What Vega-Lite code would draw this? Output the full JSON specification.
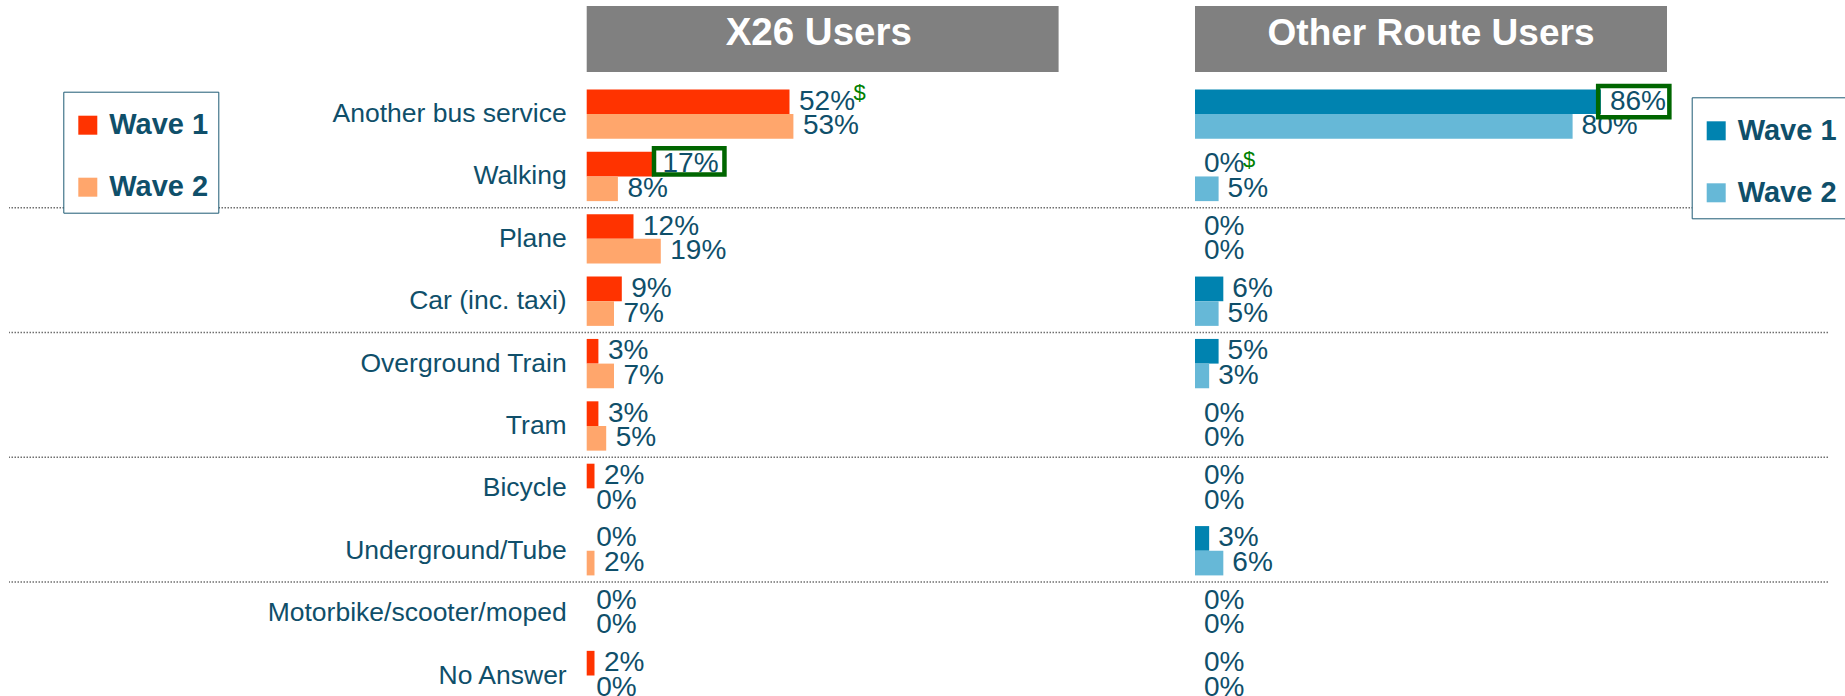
{
  "$schema": "https://vega.github.io/schema/vega-lite/v6.json",
  "width": 1819,
  "height": 696,
  "autosize": "none",
  "padding": {"left": 9, "right": 17, "top": 0, "bottom": 0},
  "background": "white",
  "config": {
    "view": {"stroke": null},
    "font": "Liberation Sans",
    "text": {"font": "Liberation Sans"}
  },
  "datasets": {
    "bars": [
      {"panel": "X26 Users", "cat": "Another bus service", "wave": "Wave 1", "value": 0.52, "box": false, "sig": "$"},
      {"panel": "X26 Users", "cat": "Another bus service", "wave": "Wave 2", "value": 0.53, "box": false, "sig": ""},
      {"panel": "X26 Users", "cat": "Walking", "wave": "Wave 1", "value": 0.17, "box": true, "sig": ""},
      {"panel": "X26 Users", "cat": "Walking", "wave": "Wave 2", "value": 0.08, "box": false, "sig": ""},
      {"panel": "X26 Users", "cat": "Plane", "wave": "Wave 1", "value": 0.12, "box": false, "sig": ""},
      {"panel": "X26 Users", "cat": "Plane", "wave": "Wave 2", "value": 0.19, "box": false, "sig": ""},
      {"panel": "X26 Users", "cat": "Car (inc. taxi)", "wave": "Wave 1", "value": 0.09, "box": false, "sig": ""},
      {"panel": "X26 Users", "cat": "Car (inc. taxi)", "wave": "Wave 2", "value": 0.07, "box": false, "sig": ""},
      {"panel": "X26 Users", "cat": "Overground Train", "wave": "Wave 1", "value": 0.03, "box": false, "sig": ""},
      {"panel": "X26 Users", "cat": "Overground Train", "wave": "Wave 2", "value": 0.07, "box": false, "sig": ""},
      {"panel": "X26 Users", "cat": "Tram", "wave": "Wave 1", "value": 0.03, "box": false, "sig": ""},
      {"panel": "X26 Users", "cat": "Tram", "wave": "Wave 2", "value": 0.05, "box": false, "sig": ""},
      {"panel": "X26 Users", "cat": "Bicycle", "wave": "Wave 1", "value": 0.02, "box": false, "sig": ""},
      {"panel": "X26 Users", "cat": "Bicycle", "wave": "Wave 2", "value": 0.0, "box": false, "sig": ""},
      {"panel": "X26 Users", "cat": "Underground/Tube", "wave": "Wave 1", "value": 0.0, "box": false, "sig": ""},
      {"panel": "X26 Users", "cat": "Underground/Tube", "wave": "Wave 2", "value": 0.02, "box": false, "sig": ""},
      {"panel": "X26 Users", "cat": "Motorbike/scooter/moped", "wave": "Wave 1", "value": 0.0, "box": false, "sig": ""},
      {"panel": "X26 Users", "cat": "Motorbike/scooter/moped", "wave": "Wave 2", "value": 0.0, "box": false, "sig": ""},
      {"panel": "X26 Users", "cat": "No Answer", "wave": "Wave 1", "value": 0.02, "box": false, "sig": ""},
      {"panel": "X26 Users", "cat": "No Answer", "wave": "Wave 2", "value": 0.0, "box": false, "sig": ""},
      {"panel": "Other Route Users", "cat": "Another bus service", "wave": "Wave 1", "value": 0.86, "box": true, "sig": ""},
      {"panel": "Other Route Users", "cat": "Another bus service", "wave": "Wave 2", "value": 0.80, "box": false, "sig": ""},
      {"panel": "Other Route Users", "cat": "Walking", "wave": "Wave 1", "value": 0.0, "box": false, "sig": "$"},
      {"panel": "Other Route Users", "cat": "Walking", "wave": "Wave 2", "value": 0.05, "box": false, "sig": ""},
      {"panel": "Other Route Users", "cat": "Plane", "wave": "Wave 1", "value": 0.0, "box": false, "sig": ""},
      {"panel": "Other Route Users", "cat": "Plane", "wave": "Wave 2", "value": 0.0, "box": false, "sig": ""},
      {"panel": "Other Route Users", "cat": "Car (inc. taxi)", "wave": "Wave 1", "value": 0.06, "box": false, "sig": ""},
      {"panel": "Other Route Users", "cat": "Car (inc. taxi)", "wave": "Wave 2", "value": 0.05, "box": false, "sig": ""},
      {"panel": "Other Route Users", "cat": "Overground Train", "wave": "Wave 1", "value": 0.05, "box": false, "sig": ""},
      {"panel": "Other Route Users", "cat": "Overground Train", "wave": "Wave 2", "value": 0.03, "box": false, "sig": ""},
      {"panel": "Other Route Users", "cat": "Tram", "wave": "Wave 1", "value": 0.0, "box": false, "sig": ""},
      {"panel": "Other Route Users", "cat": "Tram", "wave": "Wave 2", "value": 0.0, "box": false, "sig": ""},
      {"panel": "Other Route Users", "cat": "Bicycle", "wave": "Wave 1", "value": 0.0, "box": false, "sig": ""},
      {"panel": "Other Route Users", "cat": "Bicycle", "wave": "Wave 2", "value": 0.0, "box": false, "sig": ""},
      {"panel": "Other Route Users", "cat": "Underground/Tube", "wave": "Wave 1", "value": 0.03, "box": false, "sig": ""},
      {"panel": "Other Route Users", "cat": "Underground/Tube", "wave": "Wave 2", "value": 0.06, "box": false, "sig": ""},
      {"panel": "Other Route Users", "cat": "Motorbike/scooter/moped", "wave": "Wave 1", "value": 0.0, "box": false, "sig": ""},
      {"panel": "Other Route Users", "cat": "Motorbike/scooter/moped", "wave": "Wave 2", "value": 0.0, "box": false, "sig": ""},
      {"panel": "Other Route Users", "cat": "No Answer", "wave": "Wave 1", "value": 0.0, "box": false, "sig": ""},
      {"panel": "Other Route Users", "cat": "No Answer", "wave": "Wave 2", "value": 0.0, "box": false, "sig": ""}
    ],
    "seps": [
      {"cat": "Walking"},
      {"cat": "Car (inc. taxi)"},
      {"cat": "Tram"},
      {"cat": "Underground/Tube"}
    ],
    "headers": [
      {"cat": "hdr", "panel": "X26 Users"},
      {"cat": "hdr", "panel": "Other Route Users"}
    ]
  },
  "resolve": {
    "scale": {"x": "independent", "color": "independent"},
    "legend": {"color": "independent"}
  },
  "encoding": {
    "y": {
      "field": "cat",
      "type": "nominal",
      "scale": {
        "domain": ["hdr", "Another bus service", "Walking", "Plane", "Car (inc. taxi)", "Overground Train", "Tram", "Bicycle", "Underground/Tube", "Motorbike/scooter/moped", "No Answer"],
        "range": [20.5, 706.7],
        "paddingInner": 0,
        "paddingOuter": 0
      },
      "axis": null
    }
  },
  "layer": [
    {
      "data": {"name": "seps"},
      "mark": {"type": "rule", "color": "#6F6F6F", "strokeWidth": 1.5, "strokeDash": [1.5, 1.5]},
      "encoding": {
        "y": {
          "field": "cat",
          "type": "nominal",
          "bandPosition": 1,
          "scale": {
            "domain": ["hdr", "Another bus service", "Walking", "Plane", "Car (inc. taxi)", "Overground Train", "Tram", "Bicycle", "Underground/Tube", "Motorbike/scooter/moped", "No Answer"],
            "range": [20.5, 706.7],
            "paddingInner": 0,
            "paddingOuter": 0
          },
          "axis": null
        }
      }
    },
    {
      "data": {"name": "bars"},
      "transform": [{"filter": "datum.panel === 'X26 Users' && datum.wave === 'Wave 1'"}],
      "mark": {"type": "text", "align": "right", "baseline": "middle", "dx": -20, "fontSize": 26.5, "color": "#0F4F6A"},
      "encoding": {
        "x": {"datum": 0, "type": "quantitative", "scale": {"domain": [0, 1.21], "range": [577.7, 1049.6], "nice": false, "zero": false}, "axis": null},
        "text": {"field": "cat"}
      }
    },
    {
      "data": {"name": "headers"},
      "transform": [{"filter": "datum.panel === 'X26 Users'"}],
      "mark": {"type": "bar", "color": "#808080", "height": 66, "yOffset": -12.7},
      "encoding": {
        "x": {"datum": 0, "type": "quantitative", "scale": {"domain": [0, 1.21], "range": [577.7, 1049.6], "nice": false, "zero": false}, "axis": null},
        "x2": {"datum": 1.21}
      }
    },
    {
      "data": {"name": "headers"},
      "transform": [{"filter": "datum.panel === 'X26 Users'"}],
      "mark": {"type": "text", "color": "white", "fontSize": 38.5, "fontWeight": "bold", "align": "center", "baseline": "alphabetic", "yOffset": -7},
      "encoding": {
        "x": {"datum": 0.595, "type": "quantitative", "scale": {"domain": [0, 1.21], "range": [577.7, 1049.6], "nice": false, "zero": false}, "axis": null},
        "text": {"field": "panel"}
      }
    },
    {
      "data": {"name": "headers"},
      "transform": [{"filter": "datum.panel === 'Other Route Users'"}],
      "mark": {"type": "bar", "color": "#808080", "height": 66, "yOffset": -12.7},
      "encoding": {
        "x": {"datum": 0, "type": "quantitative", "scale": {"domain": [0, 1], "range": [1186, 1658], "nice": false, "zero": false}, "axis": null},
        "x2": {"datum": 1}
      }
    },
    {
      "data": {"name": "headers"},
      "transform": [{"filter": "datum.panel === 'Other Route Users'"}],
      "mark": {"type": "text", "color": "white", "fontSize": 37, "fontWeight": "bold", "align": "center", "baseline": "alphabetic", "yOffset": -7},
      "encoding": {
        "x": {"datum": 0.5, "type": "quantitative", "scale": {"domain": [0, 1], "range": [1186, 1658], "nice": false, "zero": false}, "axis": null},
        "text": {"field": "panel"}
      }
    },
    {
      "data": {"name": "bars"},
      "transform": [{"filter": "datum.panel === 'X26 Users'"}],
      "mark": {"type": "bar"},
      "encoding": {
        "x": {"field": "value", "type": "quantitative", "scale": {"domain": [0, 1.21], "range": [577.7, 1049.6], "nice": false, "zero": false}, "axis": null},
        "yOffset": {"field": "wave", "type": "nominal", "scale": {"domain": ["Wave 1", "Wave 2"], "paddingInner": 0, "paddingOuter": 0.2646}},
        "color": {
          "field": "wave",
          "type": "nominal",
          "scale": {"domain": ["Wave 1", "Wave 2"], "range": ["#FF3300", "#FFA66C"]},
          "legend": {
            "title": " ",
            "titleFontSize": 1,
            "titlePadding": 8,
            "orient": "none",
            "legendX": 54.3,
            "legendY": 91.7,
            "direction": "vertical",
            "symbolType": "square",
            "symbolSize": 361,
            "symbolStrokeWidth": 0,
            "labelFont": "Liberation Sans",
            "labelFontSize": 29,
            "labelFontWeight": "bold",
            "labelColor": "#0F4F6A",
            "labelOffset": 7,
            "padding": 10,
            "rowPadding": 32,
            "strokeColor": "#1D5B74",
            "fillColor": "white"
          }
        }
      }
    },
    {
      "data": {"name": "bars"},
      "transform": [{"filter": "datum.panel === 'Other Route Users'"}],
      "mark": {"type": "bar"},
      "encoding": {
        "x": {"field": "value", "type": "quantitative", "scale": {"domain": [0, 1], "range": [1186, 1658], "nice": false, "zero": false}, "axis": null},
        "yOffset": {"field": "wave", "type": "nominal", "scale": {"domain": ["Wave 1", "Wave 2"], "paddingInner": 0, "paddingOuter": 0.2646}},
        "color": {
          "field": "wave",
          "type": "nominal",
          "scale": {"domain": ["Wave 1", "Wave 2"], "range": ["#0083B0", "#66B8D7"]},
          "legend": {
            "title": " ",
            "titleFontSize": 1,
            "titlePadding": 8,
            "orient": "none",
            "legendX": 1682.7,
            "legendY": 97.3,
            "direction": "vertical",
            "symbolType": "square",
            "symbolSize": 361,
            "symbolStrokeWidth": 0,
            "labelFont": "Liberation Sans",
            "labelFontSize": 29,
            "labelFontWeight": "bold",
            "labelColor": "#0F4F6A",
            "labelOffset": 7,
            "padding": 10,
            "rowPadding": 32,
            "strokeColor": "#1D5B74",
            "fillColor": "white"
          }
        }
      }
    },
    {
      "data": {"name": "bars"},
      "transform": [{"filter": "datum.panel === 'X26 Users'"}],
      "mark": {"type": "text", "align": "left", "baseline": "middle", "dx": 9.5, "fontSize": 28, "color": "#0F4F6A"},
      "encoding": {
        "x": {"field": "value", "type": "quantitative", "scale": {"domain": [0, 1.21], "range": [577.7, 1049.6], "nice": false, "zero": false}, "axis": null},
        "yOffset": {"field": "wave", "type": "nominal", "scale": {"domain": ["Wave 1", "Wave 2"], "paddingInner": 0, "paddingOuter": 0.2646}},
        "text": {"field": "value", "type": "quantitative", "format": ".0%"}
      }
    },
    {
      "data": {"name": "bars"},
      "transform": [{"filter": "datum.panel === 'Other Route Users'"}],
      "mark": {"type": "text", "align": "left", "baseline": "middle", "dx": 9, "fontSize": 28, "color": "#0F4F6A"},
      "encoding": {
        "x": {"field": "value", "type": "quantitative", "scale": {"domain": [0, 1], "range": [1186, 1658], "nice": false, "zero": false}, "axis": null},
        "yOffset": {"field": "wave", "type": "nominal", "scale": {"domain": ["Wave 1", "Wave 2"], "paddingInner": 0, "paddingOuter": 0.2646}},
        "text": {"field": "value", "type": "quantitative", "format": ".0%"}
      }
    },
    {
      "data": {"name": "bars"},
      "transform": [{"filter": "datum.panel === 'X26 Users' && datum.box"}],
      "mark": {"type": "point", "shape": "M0.1,-1.585H7.145V1.035H0.1Z", "size": 400, "filled": false, "stroke": "#006600", "strokeWidth": 4.5, "opacity": 1},
      "encoding": {
        "x": {"field": "value", "type": "quantitative", "scale": {"domain": [0, 1.21], "range": [577.7, 1049.6], "nice": false, "zero": false}, "axis": null},
        "yOffset": {"field": "wave", "type": "nominal", "scale": {"domain": ["Wave 1", "Wave 2"], "paddingInner": 0, "paddingOuter": 0.2646}}
      }
    },
    {
      "data": {"name": "bars"},
      "transform": [{"filter": "datum.panel === 'Other Route Users' && datum.box"}],
      "mark": {"type": "point", "shape": "M-0.275,-1.565H6.845V1.555H-0.275Z", "size": 400, "filled": false, "stroke": "#006600", "strokeWidth": 4.5, "opacity": 1},
      "encoding": {
        "x": {"field": "value", "type": "quantitative", "scale": {"domain": [0, 1], "range": [1186, 1658], "nice": false, "zero": false}, "axis": null},
        "yOffset": {"field": "wave", "type": "nominal", "scale": {"domain": ["Wave 1", "Wave 2"], "paddingInner": 0, "paddingOuter": 0.2646}}
      }
    },
    {
      "data": {"name": "bars"},
      "transform": [{"filter": "datum.panel === 'X26 Users' && datum.sig === '$'"}],
      "mark": {"type": "text", "align": "left", "baseline": "middle", "dx": 64, "dy": -9.2, "fontSize": 22, "color": "#008000"},
      "encoding": {
        "x": {"field": "value", "type": "quantitative", "scale": {"domain": [0, 1.21], "range": [577.7, 1049.6], "nice": false, "zero": false}, "axis": null},
        "yOffset": {"field": "wave", "type": "nominal", "scale": {"domain": ["Wave 1", "Wave 2"], "paddingInner": 0, "paddingOuter": 0.2646}},
        "text": {"field": "sig"}
      }
    },
    {
      "data": {"name": "bars"},
      "transform": [{"filter": "datum.panel === 'Other Route Users' && datum.sig === '$'"}],
      "mark": {"type": "text", "align": "left", "baseline": "middle", "dx": 48, "dy": -4.5, "fontSize": 22, "color": "#008000"},
      "encoding": {
        "x": {"field": "value", "type": "quantitative", "scale": {"domain": [0, 1], "range": [1186, 1658], "nice": false, "zero": false}, "axis": null},
        "yOffset": {"field": "wave", "type": "nominal", "scale": {"domain": ["Wave 1", "Wave 2"], "paddingInner": 0, "paddingOuter": 0.2646}},
        "text": {"field": "sig"}
      }
    }
  ]
}
